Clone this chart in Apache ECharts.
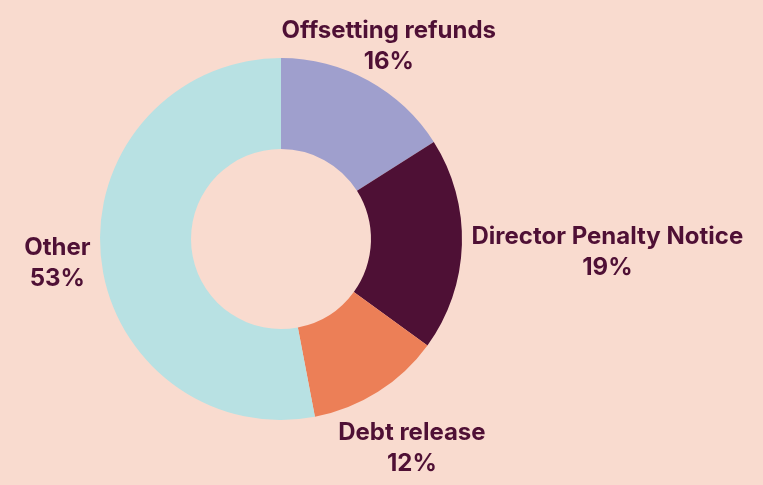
<!DOCTYPE html>
<html>
<head>
<meta charset="utf-8">
<script src="https://cdn.jsdelivr.net/npm/echarts@6/dist/echarts.min.js"></script>
<style>
html,body{margin:0;padding:0;background:#f9dbcf;}
#c{width:763px;height:485px;}
</style>
</head>
<body>
<div id="c"></div>
<script>
const categories = ['Offsetting refunds', 'Director Penalty Notice', 'Debt release', 'Other'];
const values = [16, 19, 12, 53];
const colors = ['#9f9fcd', '#4e1035', '#ec7f57', '#b8e1e3'];

const CX = 281, CY = 239, R_IN = 90, R_OUT = 181, GAP = 9.5;
const FONT_SIZE = 24, LINE_H = 31, INK_HALF = 9, TEXT_DY = 3;
const FONT = '700 ' + FONT_SIZE + 'px Inter';
const total = values.reduce((a, b) => a + b, 0);
const midAngles = [];
let acc = 0;
values.forEach(v => { midAngles.push((acc + v / 2) / total * 2 * Math.PI); acc += v; });

const mctx = document.createElement('canvas').getContext('2d');
mctx.font = FONT;
function labelLines(i) { return [categories[i], values[i] + '%']; }

// distance from origin to nearest point of a rect
function rectDist(x0, x1, y0, y1) {
  const dx = (x0 <= 0 && x1 >= 0) ? 0 : Math.min(Math.abs(x0), Math.abs(x1));
  const dy = (y0 <= 0 && y1 >= 0) ? 0 : Math.min(Math.abs(y0), Math.abs(y1));
  return Math.sqrt(dx * dx + dy * dy);
}
function clearance(i, d) {
  const th = midAngles[i], s = Math.sin(th), c = Math.cos(th);
  const cx = d * s, cy = -d * c;
  const lines = labelLines(i);
  let m = Infinity;
  lines.forEach((t, k) => {
    const w = mctx.measureText(t).width;
    const ly = cy + (k - (lines.length - 1) / 2) * LINE_H;
    m = Math.min(m, rectDist(cx - w / 2, cx + w / 2, ly - INK_HALF, ly + INK_HALF));
  });
  return m;
}
function labelDistance(i) {
  let lo = R_OUT, hi = R_OUT + 400;
  for (let k = 0; k < 40; k++) {
    const mid = (lo + hi) / 2;
    if (clearance(i, mid) >= R_OUT + GAP) hi = mid; else lo = mid;
  }
  return hi;
}

const chart = echarts.init(document.getElementById('c'));
chart.setOption({
  backgroundColor: '#f9dbcf',
  animation: false,
  series: [{
    type: 'pie',
    center: [CX, CY],
    radius: [R_IN, R_OUT],
    startAngle: 90,
    clockwise: true,
    avoidLabelOverlap: false,
    data: categories.map((c, i) => ({ name: c, value: values[i], itemStyle: { color: colors[i] } })),
    label: {
      show: true,
      position: 'outside',
      formatter: p => labelLines(p.dataIndex).join('\n'),
      fontFamily: 'Inter',
      fontWeight: 700,
      fontSize: FONT_SIZE,
      lineHeight: LINE_H,
      color: '#4f1035',
      align: 'center'
    },
    labelLine: { show: false },
    labelLayout: function (p) {
      const i = p.dataIndex;
      const th = midAngles[i];
      const d = labelDistance(i);
      return { x: CX + d * Math.sin(th), y: CY - d * Math.cos(th) + TEXT_DY, align: 'center', verticalAlign: 'middle' };
    },
    emphasis: { disabled: true }
  }]
});
</script>
</body>
</html>
